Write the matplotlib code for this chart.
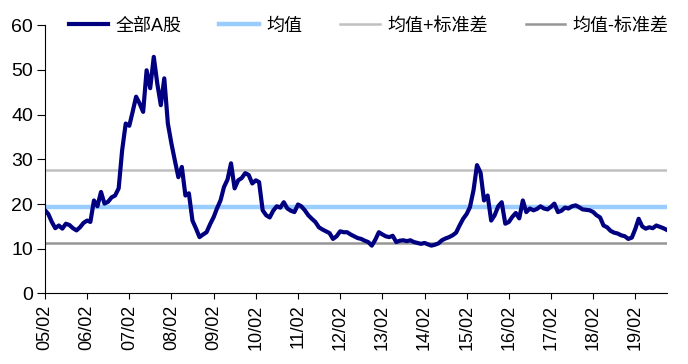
import matplotlib
matplotlib.use("Agg")
import matplotlib.pyplot as plt
import matplotlib.dates as mdates
import numpy as np
import pandas as pd

plt.rcParams['font.family'] = ['Liberation Sans', 'Noto Sans CJK SC', 'DejaVu Sans']

# 全部A股 PE, monthly, 2005/02 - 2019/11
pe_2005 = [18.6, 17.8, 16.0, 14.6, 15.2, 14.5, 15.6, 15.3, 14.6, 14.1, 14.8]
pe_2006 = [15.8, 16.3, 16.0, 20.8, 19.5, 22.7, 20.1, 20.5, 21.5, 21.9, 23.5, 32.0]
pe_2007 = [38.0, 37.5, 40.5, 44.0, 42.5, 40.6, 49.9, 45.9, 52.9, 47.0, 42.1, 48.1]
pe_2008 = [38.0, 33.5, 29.8, 26.0, 28.3, 21.9, 22.4, 16.3, 14.5, 12.6, 13.2, 13.7]
pe_2009 = [15.5, 17.1, 19.0, 20.8, 23.8, 25.5, 29.1, 23.5, 25.3, 25.8, 26.9, 26.5]
pe_2010 = [24.6, 25.3, 24.9, 18.6, 17.5, 17.0, 18.5, 19.5, 19.2, 20.4, 19.0, 18.5]
pe_2011 = [18.2, 19.9, 19.5, 18.6, 17.5, 16.7, 16.0, 14.8, 14.3, 13.9, 13.5, 12.2]
pe_2012 = [12.8, 13.9, 13.7, 13.7, 13.2, 12.8, 12.4, 12.2, 11.8, 11.5, 10.7, 12.0]
pe_2013 = [13.7, 13.2, 12.8, 12.6, 12.9, 11.5, 11.8, 11.9, 11.7, 11.9, 11.5, 11.3]
pe_2014 = [11.1, 11.3, 11.0, 10.7, 10.9, 11.2, 11.9, 12.3, 12.6, 13.0, 13.6, 15.2]
pe_2015 = [16.7, 17.8, 19.3, 23.1, 28.7, 27.0, 20.8, 21.9, 16.3, 17.5, 19.5, 20.4]
pe_2016 = [15.6, 16.0, 17.1, 18.0, 16.8, 20.8, 18.2, 19.0, 18.6, 18.9, 19.5, 19.0]
pe_2017 = [18.8, 19.4, 20.1, 18.2, 18.5, 19.2, 19.0, 19.5, 19.7, 19.3, 18.8, 18.7]
pe_2018 = [18.6, 18.2, 17.5, 17.0, 15.2, 14.8, 14.0, 13.6, 13.4, 13.0, 12.8, 12.2]
pe_2019 = [12.5, 14.5, 16.7, 15.0, 14.5, 14.8, 14.6, 15.2, 14.9, 14.6, 14.2]

pe = (pe_2005 + pe_2006 + pe_2007 + pe_2008 + pe_2009 + pe_2010 + pe_2011 + pe_2012
      + pe_2013 + pe_2014 + pe_2015 + pe_2016 + pe_2017 + pe_2018 + pe_2019)
dates = pd.date_range("2005-02-01", periods=len(pe), freq="MS")

mean_val = 19.3
upper_val = 27.5
lower_val = 11.2

labels = ["全部A股", "均值", "均值+标准差", "均值-标准差"]

fig = plt.figure(figsize=(6.88, 3.64), dpi=100)
ax = fig.add_axes([0.0654, 0.1937, 0.904, 0.7373])

ax.plot(dates, [upper_val] * len(pe), color="#C0C0C0", lw=1.8, label=labels[2])
ax.plot(dates, [lower_val] * len(pe), color="#969696", lw=1.8, label=labels[3])
ax.plot(dates, [mean_val] * len(pe), color="#99CCFF", lw=3.2, label=labels[1])
ax.plot(dates, pe, color="#000080", lw=3.0, label=labels[0])

ax.set_ylim(0, 60)
ax.set_yticks(np.arange(0, 61, 10))
ax.set_xlim(dates[0], dates[-1])
ax.xaxis.set_major_locator(mdates.MonthLocator(bymonth=2))
ax.xaxis.set_major_formatter(mdates.DateFormatter("%y/%m"))

for s in ["top", "right"]:
    ax.spines[s].set_visible(False)
ax.tick_params(axis="y", labelsize=14, length=5.5, pad=3)
ax.tick_params(axis="x", labelsize=13, length=4, pad=4, rotation=90)

h, l = ax.get_legend_handles_labels()
order = [3, 2, 0, 1]
leg = fig.legend([h[i] for i in order], [l[i] for i in order], loc="center",
                 bbox_to_anchor=(368.5 / 688, 1 - 26 / 364), ncol=4, frameon=False,
                 fontsize=13, handlelength=2.2, handletextpad=0.4, columnspacing=2.1,
                 borderpad=0)

fig.savefig("out.png", dpi=100)
